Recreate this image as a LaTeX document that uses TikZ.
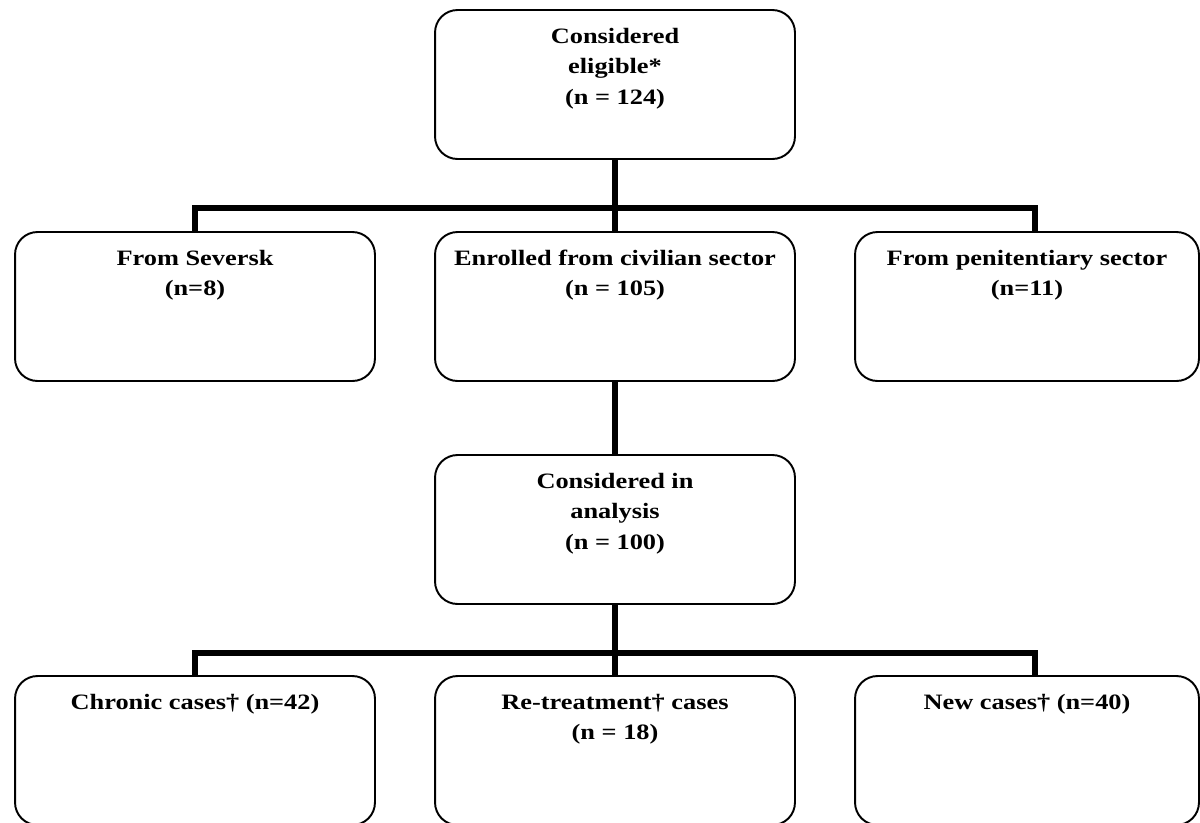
\documentclass[tikz,border=0pt]{standalone}
\usepackage{fontspec}
\setmainfont{Liberation Serif}[FakeStretch=1.2]
\newcommand{\boxlines}[1]{\begin{tabular}[t]{@{}c@{}}#1\end{tabular}}

\begin{document}
\begin{tikzpicture}[x=0.02cm, y=-0.02cm,
        stage/.style={draw, line width=1.1pt, rounded corners=0.45cm,
            inner sep=0pt, minimum width=7.2cm, text height=0.67cm, text depth=2.31cm,
            font=\fontsize{12.5}{17.3}\selectfont\bfseries},
        link/.style={line width=3.4pt}]
            \path[use as bounding box, clip] (0, 0) rectangle (1200, 822);

            %nodes
            \node[stage] (elig) at (615, 84.5) {\boxlines{Considered\\eligible*\\(n = 124)}};
            \node[stage] (severs) at (195, 306.5) {\boxlines{From Seversk\\(n=8)}};
            \node[stage] (civil) at (615, 306.5) {\boxlines{Enrolled from civilian sector\\(n = 105)}};
            \node[stage, minimum width=6.88cm] (penit) at (1027, 306.5) {\boxlines{From penitentiary sector\\(n=11)}};
            \node[stage] (anal) at (615, 529.5) {\boxlines{Considered in\\analysis\\(n = 100)}};
            \node[stage] (chron) at (195, 750.5) {\boxlines{Chronic cases† (n=42)}};
            \node[stage] (retreat) at (615, 750.5) {\boxlines{Re-treatment† cases\\(n = 18)}};
            \node[stage, minimum width=6.88cm] (newc) at (1027, 750.5) {\boxlines{New cases† (n=40)}};

            %edges
            \coordinate (fork1) at (615, 208);
            \coordinate (end1) at (1035, 232);
            \coordinate (fork2) at (615, 653);
            \coordinate (end2) at (1035, 676);
            \draw[link] (elig) -- (civil);
            \draw[link] (severs.north) |- (fork1) -| (end1);
            \draw[link] (civil) -- (anal);
            \draw[link] (anal) -- (retreat);
            \draw[link] (chron.north) |- (fork2) -| (end2);
        \end{tikzpicture}
\end{document}
